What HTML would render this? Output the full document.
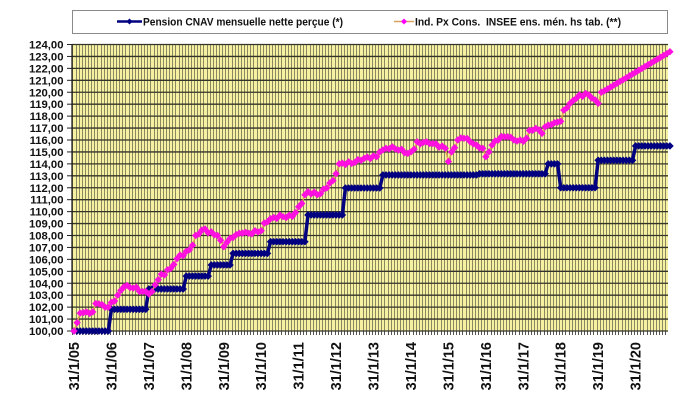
<!DOCTYPE html>
<html><head><meta charset="utf-8">
<style>
html,body{margin:0;padding:0;background:#fff;}
body{width:684px;height:419px;overflow:hidden;}
svg{display:block;}
text{font-family:"Liberation Sans",Arial,sans-serif;font-weight:bold;fill:#111;}
</style></head>
<body>
<svg id="s" width="684" height="419" viewBox="0 0 684 419" xmlns="http://www.w3.org/2000/svg">
<rect x="0" y="0" width="684" height="419" fill="#ffffff"/>
<rect x="72.5" y="10.5" width="595" height="23" fill="#fff" stroke="#8a8a8a" stroke-width="1"/>
<line x1="117" y1="21.5" x2="142" y2="21.5" stroke="#000080" stroke-width="2.5"/>
<polygon points="129.5,18.5 132.5,21.5 129.5,24.5 126.5,21.5" fill="#000080"/>
<text x="143" y="25.5" font-size="11" textLength="200" lengthAdjust="spacingAndGlyphs">Pension CNAV mensuelle nette perçue (*)</text>
<line x1="394" y1="21.5" x2="414" y2="21.5" stroke="#d9a060" stroke-width="1.5"/>
<polygon points="404,18.5 407,21.5 404,24.5 401,21.5" fill="#ff00ff"/>
<text x="415" y="25.5" font-size="11" textLength="206" lengthAdjust="spacingAndGlyphs" xml:space="preserve">Ind. Px Cons.  INSEE ens. mén. hs tab. (**)</text>
<g id="plot"></g>
</svg>
<script>
(function(){
var NS="http://www.w3.org/2000/svg";
var g=document.getElementById('plot');
function el(tag,attrs,parent){var e=document.createElementNS(NS,tag);for(var k in attrs)e.setAttribute(k,attrs[k]);(parent||g).appendChild(e);return e;}
var L=72,R=668,T=44.5,B=331;
function X(i){return 74+3.12*i;}
function Y(v){return B-(v-100)*(B-T)/24;}
el('rect',{x:L,y:T,width:R-L,height:B-T,fill:'#f5f1a0'});
for(var i=0;i<=192;i++){
  var x=Math.round(X(i)-1.56)+0.5;
  if(x<L||x>R)continue;
  el('line',{x1:x,x2:x,y1:T,y2:B,stroke:'#8a8862','stroke-width':1});
  el('line',{x1:x,x2:x,y1:B,y2:B+4,stroke:'#555','stroke-width':1});
}
for(var v=100;v<=124;v++){
  var y=Y(v);
  el('line',{x1:L,x2:R,y1:y,y2:y,stroke:'#34342a','stroke-width':1.3});
  el('line',{x1:L-5,x2:L,y1:y,y2:y,stroke:'#222','stroke-width':1});
  var t=el('text',{x:63.5,y:(y+4).toFixed(1),'font-size':11.3,'text-anchor':'end'});
  t.textContent=v+',00';
}
el('line',{x1:L,x2:L,y1:T,y2:B,stroke:'#111','stroke-width':1.2});
for(var k=0;k<=15;k++){
  var xx=X(12*k);
  var yr=5+k; var s='31/1/'+(yr<10?'0'+yr:''+yr);
  var t2=el('text',{transform:'translate('+(xx+5).toFixed(1)+',342) rotate(-90)','font-size':14.5,'text-anchor':'end'});
  t2.textContent=s;
}
var steps=[[0,100],[12,101.82],[24,103.52],[36,104.6],[44,105.53],[51,106.5],[63,107.48],[75,109.72],[87,111.98],[99,113.07],[130,113.17],[152,114.0],[156,112.0],[168,114.3],[180,115.5]];
var nav=[];
for(var i=0;i<192;i++){
  var val=100;
  for(var j=0;j<steps.length;j++){if(i>=steps[j][0])val=steps[j][1];}
  nav.push(val);
}
var pts=[];
for(var i=0;i<192;i++)pts.push(X(i).toFixed(2)+','+Y(nav[i]).toFixed(2));
el('polyline',{points:pts.join(' '),fill:'none',stroke:'#000080','stroke-width':3.5});
for(var i=0;i<192;i++){
  var cx=X(i),cy=Y(nav[i]),h=3.8;
  el('polygon',{points:cx+','+(cy-h)+' '+(cx+h)+','+cy+' '+cx+','+(cy+h)+' '+(cx-h)+','+cy,fill:'#000080'});
}
var kf=[[74,100.0],[77,100.7],[80,101.5],[87,101.6],[94,101.6],[97,102.3],[101,102.2],[107,102.0],[112,102.4],[117,103.0],[123,103.7],[133,103.6],[143,103.3],[152,103.3],[157,104.3],[163,104.7],[170,105.25],[180,106.36],[190,106.8],[197,108.0],[203,108.46],[210,108.3],[217,108.0],[220,107.6],[223,107.06],[230,107.76],[243,108.2],[260,108.4],[267,109.15],[280,109.7],[293,109.6],[300,110.4],[307,111.67],[320,111.5],[333,112.6],[340,114.0],[360,114.3],[377,114.6],[380,115.0],[387,115.3],[393,115.43],[400,115.16],[407,114.88],[412,115.0],[417,115.85],[427,115.85],[433,115.7],[440,115.4],[445,115.3],[448,114.2],[452,115.0],[457,116.0],[463,116.14],[470,115.85],[477,115.58],[482,115.3],[485,114.6],[488,115.0],[492,115.58],[497,116.0],[507,116.27],[513,116.0],[520,116.0],[527,116.14],[530,116.8],[537,116.97],[542,116.55],[547,117.25],[557,117.5],[563,117.5],[565,118.5],[570,119.07],[580,119.77],[587,119.9],[593,119.5],[597,119.07],[602,120.0],[670,123.4]];
function interp(x){
  if(x<=kf[0][0])return kf[0][1];
  for(var j=1;j<kf.length;j++){
    if(x<=kf[j][0]){var a=kf[j-1],b=kf[j];return a[1]+(b[1]-a[1])*(x-a[0])/(b[0]-a[0]);}
  }
  return kf[kf.length-1][1];
}
var pk=[];
for(var i=0;i<192;i++){
  var base=interp(X(i));
  var jit=(i<168)?0.12*Math.sin(i*2.3)+0.08*Math.sin(i*5.7):0;
  pk.push(base+jit);
}
for(var j=0;j<kf.length-1;j++){
  var idx=Math.round((kf[j][0]-74)/3.12);
  if(idx>=0&&idx<192)pk[idx]=kf[j][1];
}
var pp=[];
for(var i=0;i<192;i++)pp.push(X(i).toFixed(2)+','+Y(pk[i]).toFixed(2));
el('polyline',{points:pp.join(' '),fill:'none',stroke:'#e0a050','stroke-width':1.5});
for(var i=0;i<192;i++){
  var cx=X(i),cy=Y(pk[i]),h=3.7;
  el('polygon',{points:cx+','+(cy-h)+' '+(cx+h)+','+cy+' '+cx+','+(cy+h)+' '+(cx-h)+','+cy,fill:'#ff10e0'});
}
})();
</script>
</body></html>
